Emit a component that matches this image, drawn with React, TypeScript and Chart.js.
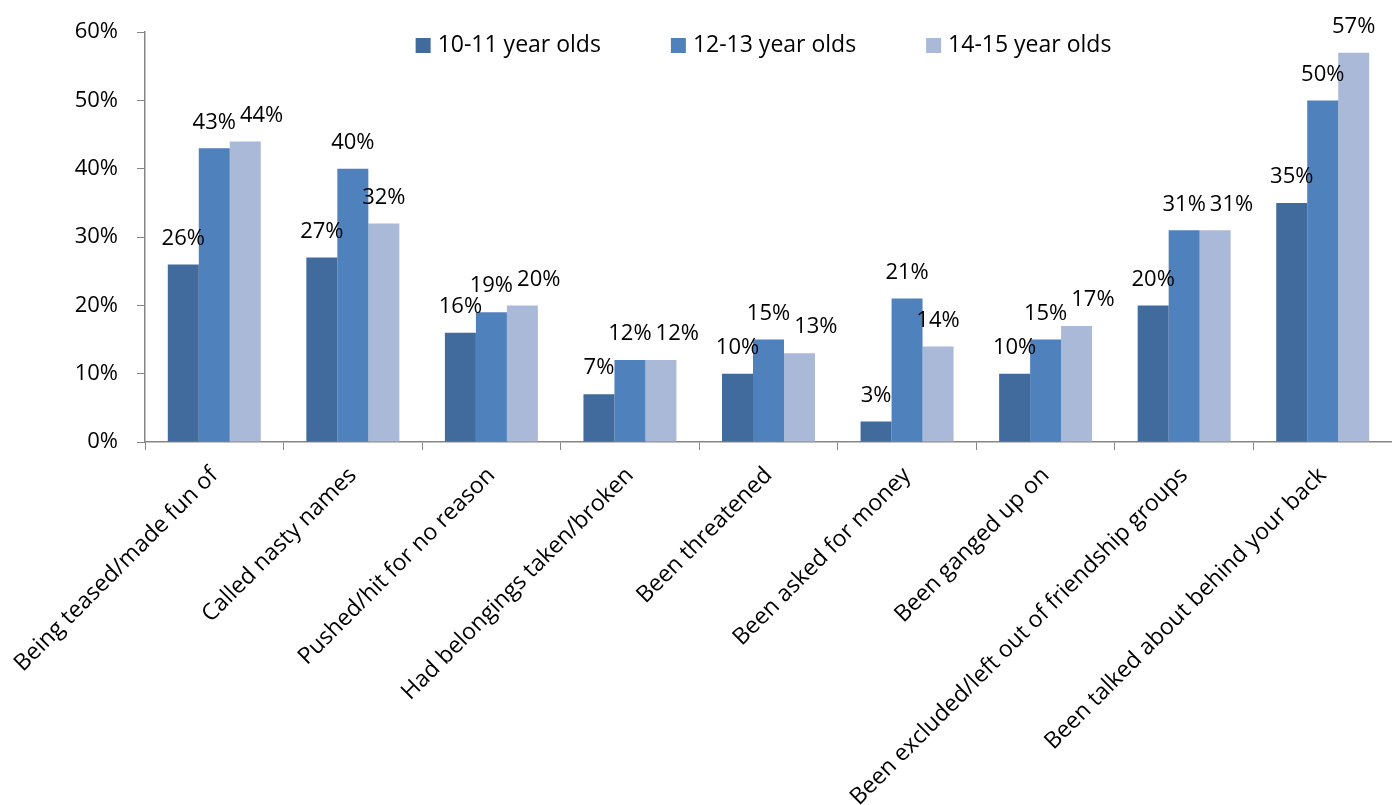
import React, { useEffect, useRef } from "react";
import { Chart, registerables } from "chart.js";

Chart.register(...registerables);

const categories = [
  "Being teased/made fun of",
  "Called nasty names",
  "Pushed/hit for no reason",
  "Had belongings taken/broken",
  "Been threatened",
  "Been asked for money",
  "Been ganged up on",
  "Been excluded/left out of friendship groups",
  "Been talked about behind your back",
];
const seriesNames = ["10-11 year olds", "12-13 year olds", "14-15 year olds"];
const age1011 = [26, 27, 16, 7, 10, 3, 10, 20, 35];
const age1213 = [43, 40, 19, 12, 15, 21, 15, 31, 50];
const age1415 = [44, 32, 20, 12, 13, 14, 17, 31, 57];
const yMin = 0;
const yMax = 60;
const yStep = 10;

const colors = ["#416A9D", "#4F81BD", "#AAB9D7"];
const FONT = "'Open Sans', sans-serif";
const FSIZE = 22;
const FSIZE_L = 23;

const labelPlugin = {
  id: "barLabels",
  afterDatasetsDraw(chart: any) {
    const ctx = chart.ctx;
    ctx.save();
    ctx.font = `${FSIZE}px ${FONT}`;
    ctx.fillStyle = "#000";
    ctx.textAlign = "center";
    ctx.textBaseline = "middle";
    const n = chart.data.labels.length;
    for (let i = 0; i < n; i++) {
      const placed: { l: number; r: number; t: number; b: number }[] = [];
      chart.data.datasets.forEach((ds: any, di: number) => {
        const meta = chart.getDatasetMeta(di);
        const el = meta.data[i];
        if (!el) return;
        const text = ds.data[i] + "%";
        const w = ctx.measureText(text).width;
        let cx = el.x;
        const cy = el.y - 26;
        const h = 18;
        for (const p of placed) {
          const l = cx - w / 2, r = cx + w / 2, t = cy - h / 2, b = cy + h / 2;
          if (l < p.r && r > p.l && t < p.b && b > p.t) {
            cx = p.r + 4 + w / 2;
          }
        }
        placed.push({ l: cx - w / 2, r: cx + w / 2, t: cy - h / 2, b: cy + h / 2 });
        ctx.fillText(text, cx, cy);
      });
    }
    ctx.restore();
  },
};

const legendPlugin = {
  id: "customLegend",
  afterDraw(chart: any) {
    const ctx = chart.ctx;
    ctx.save();
    ctx.font = `${FSIZE_L}px ${FONT}`;
    ctx.textBaseline = "middle";
    ctx.textAlign = "left";
    const box = 15;
    const gapText = 7;
    const gapItem = 70;
    const widths = chart.data.datasets.map((d: any) => ctx.measureText(d.label).width);
    const total = widths.reduce((a: number, w: number) => a + box + gapText + w, 0) + gapItem * (widths.length - 1);
    const centerX = (chart.chartArea.left + chart.chartArea.right) / 2 - 5;
    let x = centerX - total / 2;
    const y = 45.5;
    chart.data.datasets.forEach((d: any, i: number) => {
      ctx.fillStyle = d.backgroundColor;
      ctx.fillRect(x, y - box / 2, box, box);
      ctx.fillStyle = "#000";
      ctx.fillText(d.label, x + box + gapText, y);
      x += box + gapText + widths[i] + gapItem;
    });
    ctx.restore();
  },
};

export default function App() {
  const ref = useRef<HTMLCanvasElement>(null);
  useEffect(() => {
    if (!ref.current) return;
    const axisColor = "#868686";
    const chart = new Chart(ref.current, {
      type: "bar",
      data: {
        labels: categories,
        datasets: [age1011, age1213, age1415].map((d, i) => ({
          label: seriesNames[i],
          data: d,
          backgroundColor: colors[i],
          borderWidth: 0,
          categoryPercentage: 0.671,
          barPercentage: 1,
        })),
      },
      options: {
        responsive: false,
        animation: false,
        devicePixelRatio: 1,
        layout: { padding: { top: 32, left: 0, right: 0, bottom: 0 } },
        plugins: {
          legend: { display: false },
          tooltip: { enabled: false },
        },
        scales: {
          x: {
            grid: {
              display: true,
              drawOnChartArea: false,
              drawTicks: true,
              tickLength: 8,
              color: axisColor,
              offset: true,
            },
            border: { display: true, color: axisColor, width: 1.5 },
            ticks: {
              autoSkip: false,
              maxRotation: 45,
              minRotation: 45,
              padding: 12,
              color: "#000",
              font: { family: FONT, size: FSIZE_L },
            },
            afterFit(scale: any) {
              scale.height = 805 - 442;
              scale.paddingLeft = 0;
              scale.paddingRight = 0;
            },
          },
          y: {
            min: yMin,
            max: yMax,
            grid: {
              display: true,
              drawOnChartArea: false,
              drawTicks: true,
              tickLength: 8,
              color: axisColor,
            },
            border: { display: true, color: axisColor, width: 1.5 },
            ticks: {
              stepSize: yStep,
              padding: 19,
              color: "#000",
              font: { family: FONT, size: FSIZE },
              callback: (v: any) => v + "%",
            },
            afterFit(scale: any) {
              scale.width = 145;
            },
          },
        },
      },
      plugins: [labelPlugin, legendPlugin],
    });
    return () => chart.destroy();
  }, []);
  return (
    <div style={{ position: "absolute", left: 0, top: 0, width: 1392, height: 805, background: "#fff" }}>
      <canvas ref={ref} width={1392} height={805} style={{ display: "block" }} />
    </div>
  );
}
